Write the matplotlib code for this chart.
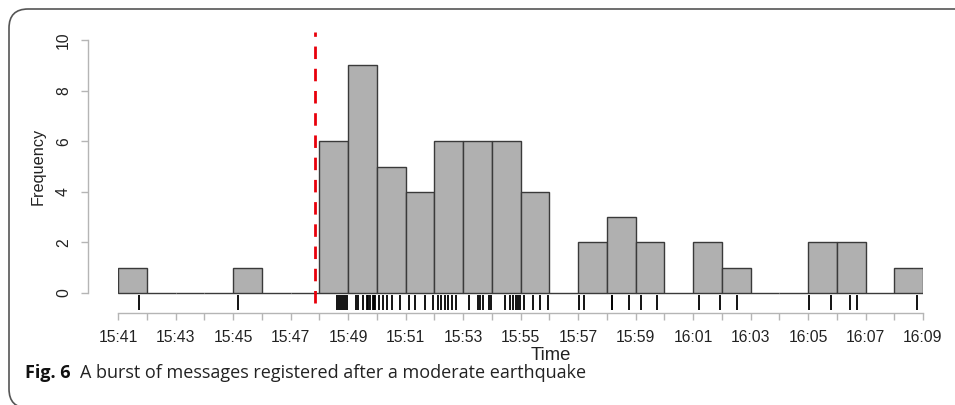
import matplotlib
matplotlib.use("Agg")
import matplotlib.pyplot as plt
from matplotlib.patches import FancyBboxPatch
import numpy as np

# message times, in minutes after 15:41
msg_minutes = [
    0.73, 4.18,
    7.63, 7.70, 7.76, 7.84, 7.90, 7.98,
    8.28, 8.36, 8.53, 8.65, 8.70, 8.78, 8.86, 8.90, 8.95,
    9.09, 9.20, 9.35, 9.54, 9.81,
    10.12, 10.33, 10.68, 10.95,
    11.14, 11.23, 11.37, 11.49, 11.61, 11.75,
    12.22, 12.53, 12.59, 12.68, 12.92, 12.96,
    13.46, 13.63, 13.75, 13.83, 13.90, 13.98,
    14.12, 14.45, 14.68, 14.97,
    16.03, 16.22,
    17.17, 17.19, 17.78,
    18.20, 18.75,
    20.22, 20.94,
    21.52,
    24.05, 24.79,
    25.46, 25.69,
    27.78,
]
bin_edges = list(range(0, 29))
quake_minute = 6.85
tick_minutes = list(range(0, 29))
label_minutes = list(range(0, 29, 2))
start_hour, start_min = 15, 41
y_ticks = [0, 2, 4, 6, 8, 10]

def fmt(m):
    total = start_hour * 60 + start_min + m
    return f"{total // 60}:{total % 60:02d}"

W, H = 955, 405
PX = 72 / 100  # points per pixel
fig = plt.figure(figsize=(W / 100, H / 100), dpi=100)
font = "Liberation Sans"

# axes in pixel geometry
x0, x1 = 118, 923
y_axis_px = 313
y10_px = 40
y0_px = 293
per_unit = (y0_px - y10_px) / 10
top_px = 28
ybot = -(y_axis_px - y0_px) / per_unit
ytop = 10 + (y10_px - top_px) / per_unit
ax = fig.add_axes([x0 / W, (H - y_axis_px) / H, (x1 - x0) / W, (y_axis_px - top_px) / H])
ax.set_xlim(0, 28)
ax.set_ylim(ybot, ytop)
ax.patch.set_alpha(0)

ax.hist(msg_minutes, bins=bin_edges, color="#b0b0b0", edgecolor="#3a3a3a", linewidth=1.0)

# rug
ax.vlines(msg_minutes, -(310 - y0_px) / per_unit, -(295 - y0_px) / per_unit,
          color="black", linewidth=1.3)

# earthquake line
ax.vlines([quake_minute], -(303 - y0_px) / per_unit, 10 + (y10_px - 32) / per_unit,
          color="#e8000b", linewidth=2, linestyles=(0, (4.5, 3.5)))

for s in ["top", "right"]:
    ax.spines[s].set_visible(False)
ax.spines["left"].set_position(("outward", (x0 - 88) * PX))
ax.spines["left"].set_bounds(0, 10)
ax.spines["bottom"].set_bounds(0, 28)
for s in ["left", "bottom"]:
    ax.spines[s].set_color("#b5b5b5")
    ax.spines[s].set_linewidth(1.0)

ax.set_xticks(tick_minutes)
ax.set_xticklabels([fmt(m) if m in label_minutes else "" for m in tick_minutes],
                   fontsize=11.3, fontfamily=font)
ax.set_yticks(y_ticks)
ax.set_yticklabels([str(v) for v in y_ticks], fontsize=11.3, fontfamily=font,
                   rotation=90, va="center")
ax.tick_params(axis="both", colors="#b5b5b5", length=7 * PX, width=1.0, labelcolor="#222222")
ax.tick_params(axis="x", pad=10 * PX)
ax.tick_params(axis="y", pad=10 * PX)

fig.text(551 / W, 1 - 355 / H, "Time", fontsize=13.3, fontfamily=font, color="#222222",
         ha="center", va="center")
fig.text(38 / W, 1 - 166 / H, "Frequency", fontsize=11.7, fontfamily=font, color="#222222",
         ha="center", va="center", rotation=90)

# caption
cap_y = 1 - 373 / H
t1 = fig.text(25 / W, cap_y, "Fig. 6", fontsize=13, fontweight="bold",
              fontfamily="Open Sans", va="center", ha="left", color="#111111")
fig.canvas.draw()
ext = t1.get_window_extent(fig.canvas.get_renderer())
fig.text((ext.x1 + 9) / W, cap_y, "A burst of messages registered after a moderate earthquake",
         fontsize=13, fontfamily="Open Sans", va="center", ha="left", color="#222222")

# frame
box = FancyBboxPatch((9 / W, -3 / H), (W + 20) / W, (H - 9 + 3) / H,
                     boxstyle="round,pad=0,rounding_size=0.02",
                     transform=fig.transFigure, fill=False, edgecolor="#555555",
                     linewidth=1.2, mutation_aspect=W / H)
fig.patches.append(box)

fig.savefig("out.png", dpi=100)
